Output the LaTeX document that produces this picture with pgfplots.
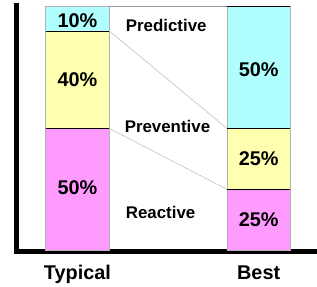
\documentclass[border=0pt]{standalone}
\usepackage{fontspec}
\setmainfont{Liberation Sans}
\usepackage{pgfplots}
\pgfplotsset{compat=1.18}
\definecolor{pcyan}{RGB}{176,255,255}
\definecolor{pyellow}{RGB}{255,255,176}
\definecolor{ppink}{RGB}{255,155,255}
\pgfplotsset{common/.style={
  scale only axis, width=300.5pt, height=248.2pt,
  xmin=-0.337, xmax=1.3096, ymin=-0.6, ymax=100.5, clip=false}}
\begin{document}
\begin{tikzpicture}
\begin{axis}[common,
  ybar stacked, bar width=64pt,
  axis lines=left, axis line style={-, line width=4.5pt, line cap=rect, black},
  xtick={0,1}, xticklabels={Typical,Best}, ytick=\empty,
  major tick length=0pt,
  xticklabel style={font=\fontsize{20}{20}\selectfont\bfseries, anchor=base, yshift=-28pt},
]
\addplot[fill=ppink, draw=gray!60] coordinates {(0,50) (1,25)};
\addplot[fill=pyellow, draw=gray!60] coordinates {(0,40) (1,25)};
\addplot[fill=pcyan, draw=gray!60] coordinates {(0,10) (1,50)};
\end{axis}
\begin{axis}[common, hide axis]
% connector lines
\addplot[gray!55, line width=0.5pt] coordinates {(0.1753,90) (0.8247,50)};
\addplot[gray!55, line width=0.5pt] coordinates {(0.1753,50) (0.8247,25)};
\addplot[gray!80, line width=0.6pt] coordinates {(0.1753,100) (0.8247,100)};
% segment separators
\addplot[black, line width=0.7pt] coordinates {(-0.1753,90) (0.1753,90)};
\addplot[black, line width=0.7pt] coordinates {(-0.1753,50) (0.1753,50)};
\addplot[black, line width=0.7pt] coordinates {(0.8247,100) (1.1753,100)};
\addplot[black, line width=0.7pt] coordinates {(0.8247,50) (1.1753,50)};
\addplot[black, line width=0.7pt] coordinates {(0.8247,25) (1.1753,25)};
% value labels
\begin{scope}[every node/.style={font=\fontsize{20}{20}\selectfont\bfseries}]
\node at (axis cs:0,94) {10\%};
\node at (axis cs:0,70) {40\%};
\node at (axis cs:0,25.5) {50\%};
\node at (axis cs:1,74) {50\%};
\node at (axis cs:1,37.5) {25\%};
\node at (axis cs:1,12.5) {25\%};
\end{scope}
\begin{scope}[every node/.style={font=\fontsize{17}{17}\selectfont\bfseries, anchor=base west, inner sep=0pt}]
\node at (axis cs:0.266,89.7) {Predictive};
\node at (axis cs:0.26,48.1) {Preventive};
\node at (axis cs:0.266,13.0) {Reactive};
\end{scope}
\coordinate (bl) at (rel axis cs:0,0);
\coordinate (tr) at (rel axis cs:1,1);
\end{axis}
\path[use as bounding box] ([shift={(-16.5pt,-32.5pt)}]bl) rectangle ([shift={(0pt,5.3pt)}]tr);
\end{tikzpicture}
\end{document}
